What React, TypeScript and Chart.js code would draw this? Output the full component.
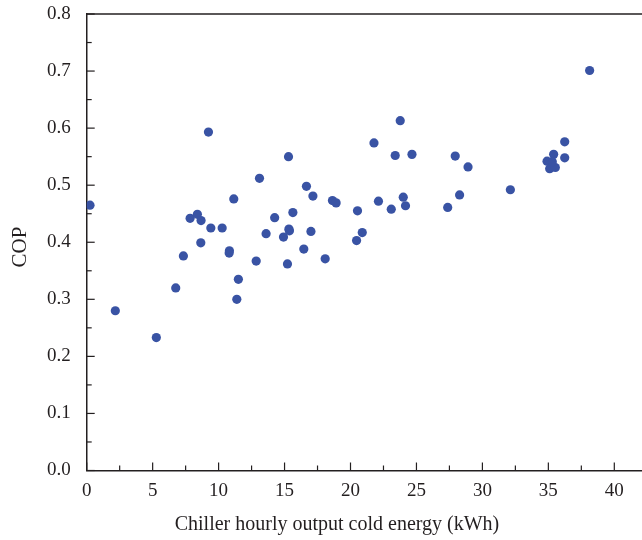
import React, { useEffect, useRef } from "react";
import { Chart, registerables } from "chart.js";

Chart.register(...registerables);

const outputEnergy: number[] = [
  0.25, 2.17, 5.28, 6.75, 7.33, 7.84, 8.39, 8.67, 8.65, 9.23,
  9.41, 10.27, 10.82, 10.8, 11.15, 11.5, 11.38, 12.85, 13.1, 13.6,
  14.25, 14.92, 15.3, 15.33, 15.37, 15.22, 15.63, 16.46, 16.66, 17.0,
  17.15, 18.08, 18.63, 18.91, 20.46, 20.53, 20.89, 21.78, 22.12, 23.09,
  23.39, 23.77, 24.0, 24.17, 24.66, 27.37, 27.94, 28.27, 28.91, 32.12,
  34.9, 35.1, 35.4, 35.53, 35.3, 36.24, 36.24, 38.13,
];

const copValues: number[] = [
  0.465, 0.28, 0.233, 0.32, 0.376, 0.442, 0.449, 0.438, 0.399, 0.593,
  0.425, 0.425, 0.385, 0.381, 0.476, 0.335, 0.3, 0.367, 0.512, 0.415,
  0.443, 0.409, 0.55, 0.423, 0.42, 0.362, 0.452, 0.388, 0.498, 0.419,
  0.481, 0.371, 0.473, 0.469, 0.403, 0.455, 0.417, 0.574, 0.472, 0.458,
  0.552, 0.613, 0.479, 0.464, 0.554, 0.461, 0.551, 0.483, 0.532, 0.492,
  0.542, 0.529, 0.554, 0.531, 0.541, 0.576, 0.548, 0.701,
];

const xTicks: number[] = [0, 5, 10, 15, 20, 25, 30, 35, 40];
const yTicks: number[] = [0, 0.1, 0.2, 0.3, 0.4, 0.5, 0.6, 0.7, 0.8];

const xTitle = "Chiller hourly output cold energy (kWh)";
const yTitle = "COP";

const TEXT = "#231f20";
const FONT = "'Liberation Serif', 'DejaVu Serif', serif";

const frameTicks = {
  id: "frameTicks",
  afterDraw(chart: any) {
    const { ctx, chartArea, scales } = chart;
    const xs = scales.x;
    const ys = scales.y;
    ctx.save();
    ctx.strokeStyle = TEXT;
    ctx.lineWidth = 1.5;
    // top border
    ctx.beginPath();
    ctx.moveTo(chartArea.left, chartArea.top);
    ctx.lineTo(chartArea.right + 6, chartArea.top);
    ctx.stroke();
    ctx.lineWidth = 1.2;
    // x ticks (inward)
    for (let v = 0; v <= 42; v += 2.5) {
      const px = xs.getPixelForValue(v);
      if (px > chartArea.right) break;
      const len = Math.abs(v % 5) < 1e-9 ? 8 : 5;
      ctx.beginPath();
      ctx.moveTo(px, chartArea.bottom);
      ctx.lineTo(px, chartArea.bottom - len);
      ctx.stroke();
    }
    // y ticks (inward)
    for (let i = 0; i <= 16; i++) {
      const v = i * 0.05;
      const py = ys.getPixelForValue(v);
      const len = i % 2 === 0 ? 8 : 5;
      ctx.beginPath();
      ctx.moveTo(chartArea.left, py);
      ctx.lineTo(chartArea.left + len, py);
      ctx.stroke();
    }
    // axis titles
    ctx.fillStyle = TEXT;
    ctx.textAlign = "center";
    ctx.textBaseline = "middle";
    ctx.font = `20px ${FONT}`;
    ctx.fillText(xTitle, 337, 525);
    ctx.translate(20, 247);
    ctx.rotate(-Math.PI / 2);
    ctx.font = `21px ${FONT}`;
    ctx.fillText(yTitle, 0, 0);
    ctx.restore();
  },
};

export default function App() {
  const ref = useRef<HTMLCanvasElement | null>(null);

  useEffect(() => {
    if (!ref.current) return;
    const points = outputEnergy.map((x, i) => ({ x, y: copValues[i] }));
    const chart = new Chart(ref.current, {
      type: "scatter",
      data: {
        datasets: [
          {
            data: points,
            backgroundColor: "#3953a4",
            borderWidth: 0,
            pointRadius: 4.6,
            pointHoverRadius: 4.6,
          },
        ],
      },
      options: {
        animation: false,
        responsive: false,
        devicePixelRatio: 1,
        layout: { padding: { top: 14, right: 0, left: 0, bottom: 0 } },
        plugins: {
          legend: { display: false },
          tooltip: { enabled: false },
        },
        scales: {
          x: {
            type: "linear",
            min: 0,
            max: 42.13,
            afterFit(scale: any) {
              scale.height = 69.5;
              scale.paddingLeft = 0;
              scale.paddingRight = 0;
            },
            afterBuildTicks(scale: any) {
              scale.ticks = xTicks.map((v) => ({ value: v }));
            },
            grid: { display: false },
            border: { display: true, color: TEXT, width: 1.5 },
            ticks: {
              color: TEXT,
              font: { family: FONT, size: 19 },
              padding: 1,
              maxRotation: 0,
              callback: (v: any) => String(v),
            },
          },
          y: {
            type: "linear",
            min: 0,
            max: 0.8,
            afterFit(scale: any) {
              scale.width = 86.7;
              scale.paddingTop = 0;
              scale.paddingBottom = 0;
            },
            afterBuildTicks(scale: any) {
              scale.ticks = yTicks.map((v) => ({ value: v }));
            },
            grid: { display: false },
            border: { display: true, color: TEXT, width: 1.5 },
            ticks: {
              color: TEXT,
              font: { family: FONT, size: 19 },
              padding: 8,
              callback: (v: any) => Number(v).toFixed(1),
            },
          },
        },
      },
      plugins: [frameTicks],
    });
    return () => chart.destroy();
  }, []);

  return (
    <div
      style={{
        position: "fixed",
        left: 0,
        top: 0,
        width: 642,
        height: 540,
        overflow: "hidden",
        background: "#fff",
      }}
    >
      <canvas ref={ref} width={647} height={540} style={{ display: "block" }} />
    </div>
  );
}
